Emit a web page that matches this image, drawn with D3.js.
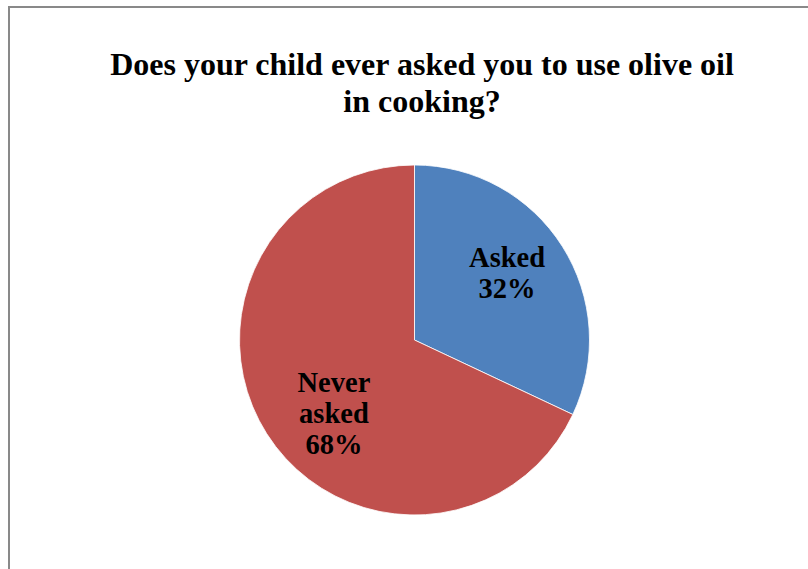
<!DOCTYPE html>
<html>
<head>
<meta charset="utf-8">
<script src="https://cdn.jsdelivr.net/npm/d3@7"></script>
<style>
  html, body { margin: 0; padding: 0; background: #fff; }
  svg { display: block; }
</style>
</head>
<body>
<svg id="chart" width="808" height="569"></svg>
<script>
// Survey answers: share of respondents in each group
const categories = ["Asked", "Never asked"];
const values = [32, 68];
const colors = ["#4F81BD", "#C0504D"];
const titleLines = ["Does your child ever asked you to use olive oil", "in cooking?"];
// Slice labels, one entry per text line
const sliceLabels = [["Asked", "32%"], ["Never", "asked", "68%"]];

const svg = d3.select("#chart");
const font = "'Liberation Serif', 'Times New Roman', serif";

// Chart area frame (runs off the right and bottom of the view)
svg.append("rect")
  .attr("x", 9).attr("y", 7)
  .attr("width", 830).attr("height", 600)
  .attr("fill", "#fff")
  .attr("stroke", "#898989")
  .attr("stroke-width", 2);

// Title
const title = svg.append("text")
  .attr("text-anchor", "middle")
  .attr("font-family", font)
  .attr("font-weight", "bold")
  .attr("font-size", 32)
  .attr("fill", "#000");
titleLines.forEach((t, i) => {
  title.append("tspan").attr("x", 422).attr("y", 75 + i * 37).text(t);
});

// Pie
const cx = 414.5, cy = 340, r = 175;
const pie = d3.pie().sort(null).value(d => d.value);
const arcs = pie(categories.map((c, i) => ({ name: c, value: values[i], idx: i })));
const arc = d3.arc().innerRadius(0).outerRadius(r);

const g = svg.append("g").attr("transform", `translate(${cx},${cy})`);
g.selectAll("path.slice")
  .data(arcs)
  .join("path")
  .attr("class", "slice")
  .attr("d", arc)
  .attr("fill", d => colors[d.data.idx])
  .attr("stroke", "#fff")
  .attr("stroke-width", 0.8);

// Labels inside slices: placed on the slice's mid-angle, then nudged
const labelArc = d3.arc().innerRadius(r * 0.62).outerRadius(r * 0.62);
const labelNudge = [[1, -9], [11, 15]];
const lineH = 31;
g.selectAll("text.lbl")
  .data(arcs)
  .join("text")
  .attr("class", "lbl")
  .attr("text-anchor", "middle")
  .attr("font-family", font)
  .attr("font-weight", "bold")
  .attr("font-size", 28.5)
  .attr("fill", "#000")
  .each(function(d) {
    const [x0, y] = labelArc.centroid(d);
    const [nx, ny] = labelNudge[d.data.idx];
    const x = x0 + nx;
    const lines = sliceLabels[d.data.idx];
    const t = d3.select(this);
    const y0 = y + ny - (lines.length - 1) * lineH / 2 + 10;
    lines.forEach((s, i) => {
      t.append("tspan").attr("x", x).attr("y", y0 + i * lineH).text(s);
    });
  });
</script>
</body>
</html>
